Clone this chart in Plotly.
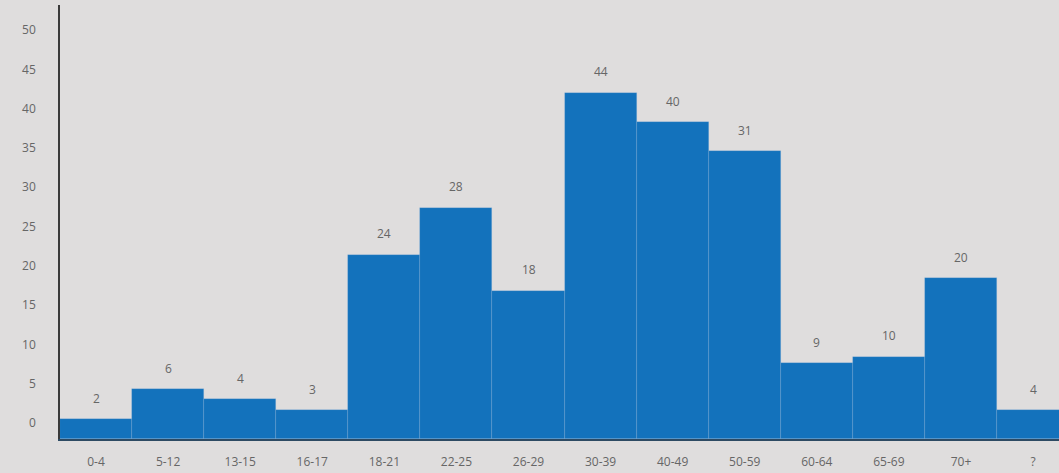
import plotly.graph_objects as go

categories = ["0-4", "5-12", "13-15", "16-17", "18-21", "22-25", "26-29",
              "30-39", "40-49", "50-59", "60-64", "65-69", "70+", "?"]
bar_heights = [0.5, 4.3, 3.05, 1.65, 21.4, 27.4, 16.8, 42.0, 38.3, 34.6, 7.6, 8.4, 18.4, 1.65]
value_labels = ["2", "6", "4", "3", "24", "28", "18", "44", "40", "31", "9", "10", "20", "4"]
y_ticks = [0, 5, 10, 15, 20, 25, 30, 35, 40, 45, 50]

Y_MIN, Y_MAX = -2.04, 53.2
BG = "#DFDDDD"
BLUE = "#1372BC"
x_idx = list(range(len(categories)))

fig = go.Figure()
fig.add_trace(go.Bar(
    x=x_idx,
    y=[h - Y_MIN for h in bar_heights],
    base=Y_MIN,
    marker=dict(color=BLUE, line=dict(color="rgba(150,190,225,0.35)", width=0.6)),
    width=1.0,
    hoverinfo="skip",
))

for xi, h, lab in zip(x_idx, bar_heights, value_labels):
    fig.add_annotation(x=xi, y=h, text=lab, showarrow=False, yshift=21,
                       font=dict(family="Open Sans", size=12, color="#666666"))

fig.update_layout(
    width=1059, height=473,
    margin=dict(l=60, r=0, t=5, b=34),
    paper_bgcolor=BG, plot_bgcolor=BG,
    bargap=0, showlegend=False,
    font=dict(family="Open Sans", size=12, color="#666666"),
)
fig.update_xaxes(
    range=[-0.5, 13.36],
    tickmode="array", tickvals=x_idx, ticktext=categories,
    showgrid=False, zeroline=False,
    showline=True, linecolor="#2d4a63", linewidth=2,
    ticks="", ticklabelstandoff=11,
    tickfont=dict(family="Open Sans", size=12, color="#666666"),
)
fig.update_yaxes(
    range=[Y_MIN, Y_MAX],
    tickmode="array", tickvals=y_ticks,
    showgrid=False, zeroline=False,
    showline=True, linecolor="#3a3a3a", linewidth=1.5,
    ticks="", ticklabelstandoff=20,
    tickfont=dict(family="Open Sans", size=12, color="#666666"),
)

fig.write_html("out.html")
